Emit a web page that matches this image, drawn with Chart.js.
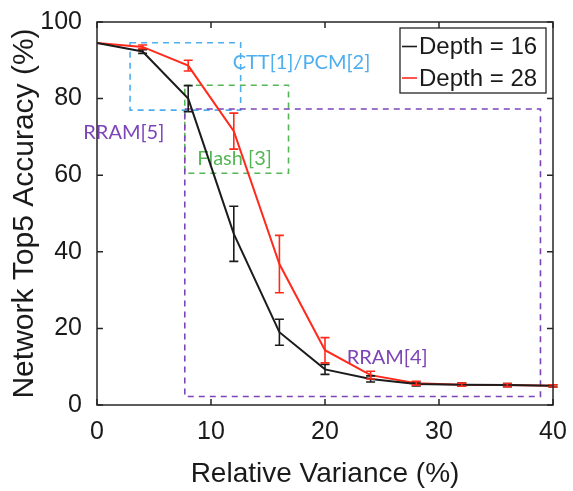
<!DOCTYPE html>
<html>
<head>
<meta charset="utf-8">
<script src="https://cdn.jsdelivr.net/npm/chart.js@4.4.1/dist/chart.umd.min.js"></script>
<style>
  html, body { margin: 0; padding: 0; background: #fff; }
  #wrap { width: 573px; height: 491px; }
</style>
</head>
<body>
<div id="wrap"><canvas id="c" width="573" height="491"></canvas></div>
<script>
// Relative variance (%) at which accuracy was evaluated
const variance = [0, 4, 8, 12, 16, 20, 24, 28, 32, 36, 40];

// Network top-5 accuracy (%) and error half-widths for each depth
const depth16 = [94.5, 92.3, 80.0, 44.7, 19.0, 9.3, 6.8, 5.5, 5.3, 5.2, 5.0];
const depth16Err = [0, 0.5, 3.4, 7.2, 3.4, 1.3, 0.8, 0.5, 0.4, 0.4, 0.3];
const depth28 = [94.5, 93.5, 88.6, 71.5, 36.8, 14.3, 7.8, 5.7, 5.3, 5.2, 5.0];
const depth28Err = [0, 0.5, 1.4, 4.7, 7.5, 3.3, 1.0, 0.5, 0.4, 0.4, 0.3];

const seriesNames = ['Depth = 16', 'Depth = 28'];
const xTicks = [0, 10, 20, 30, 40];
const yTicks = [0, 20, 40, 60, 80, 100];

// Device technology variance ranges: [xMin, xMax, yMin, yMax]
const techNames = ['CTT[1]/PCM[2]', 'Flash [3]', 'RRAM[5]', 'RRAM[4]'];
const techRanges = {
  ctt: [2.9, 12.6, 77.0, 94.6],
  flash: [7.7, 16.8, 60.5, 83.5],
  rram: [7.7, 38.9, 2.2, 77.3]
};

const COLORS = { d16: '#1c1c1c', d28: '#ff2a1c', blue: '#4daef0', green: '#55b655', purple: '#7d44b8', frame: '#262626' };

const boxes = [
  { r: techRanges.ctt, color: COLORS.blue },
  { r: techRanges.flash, color: COLORS.green },
  { r: techRanges.rram, color: COLORS.purple }
];
const boxLabels = [
  { text: techNames[0], x: 11.9, y: 89.4, color: COLORS.blue },
  { text: techNames[1], x: 8.8, y: 64.4, color: COLORS.green },
  { text: techNames[2], x: -1.2, y: 71.1, color: COLORS.purple },
  { text: techNames[3], x: 21.9, y: 12.3, color: COLORS.purple }
];

const pairs = (ys) => variance.map((v, i) => ({ x: v, y: ys[i] }));

const FONT = '"Liberation Sans", Arial, Helvetica, sans-serif';

// Dashed technology boxes and their labels, under the curves
const regionPlugin = {
  id: 'regions',
  beforeDatasetsDraw(chart) {
    const { ctx, scales: { x, y } } = chart;
    ctx.save();
    ctx.lineWidth = 1.6;
    ctx.setLineDash([6, 5]);
    boxes.forEach(b => {
      const [x0, x1, y0, y1] = b.r;
      ctx.strokeStyle = b.color;
      ctx.strokeRect(x.getPixelForValue(x0), y.getPixelForValue(y1),
        x.getPixelForValue(x1) - x.getPixelForValue(x0),
        y.getPixelForValue(y0) - y.getPixelForValue(y1));
    });
    ctx.setLineDash([]);
    ctx.font = '20px Lato, "Open Sans", sans-serif';
    ctx.textBaseline = 'middle';
    ctx.textAlign = 'left';
    boxLabels.forEach(l => {
      ctx.fillStyle = l.color;
      ctx.fillText(l.text, x.getPixelForValue(l.x), y.getPixelForValue(l.y));
    });
    ctx.restore();
  }
};

// Error bars, axes frame with inward ticks, and legend
const decorPlugin = {
  id: 'decor',
  afterDatasetsDraw(chart) {
    const { ctx, chartArea: a, scales: { x, y } } = chart;
    ctx.save();
    const cap = 4.5;
    [[depth16, depth16Err, COLORS.d16], [depth28, depth28Err, COLORS.d28]].forEach(([vals, errs, col]) => {
      ctx.strokeStyle = col;
      ctx.lineWidth = 1.6;
      vals.forEach((v, i) => {
        if (!errs[i]) return;
        const px = x.getPixelForValue(variance[i]);
        const top = y.getPixelForValue(v + errs[i]);
        const bot = y.getPixelForValue(v - errs[i]);
        ctx.beginPath();
        ctx.moveTo(px, top); ctx.lineTo(px, bot);
        ctx.moveTo(px - cap, top); ctx.lineTo(px + cap, top);
        ctx.moveTo(px - cap, bot); ctx.lineTo(px + cap, bot);
        ctx.stroke();
      });
    });

    // frame
    ctx.strokeStyle = COLORS.frame;
    ctx.lineWidth = 1.5;
    ctx.strokeRect(a.left, a.top, a.right - a.left, a.bottom - a.top);
    const tl = 6;
    ctx.beginPath();
    xTicks.forEach(t => {
      const px = x.getPixelForValue(t);
      ctx.moveTo(px, a.bottom); ctx.lineTo(px, a.bottom - tl);
      ctx.moveTo(px, a.top); ctx.lineTo(px, a.top + tl);
    });
    yTicks.forEach(t => {
      const py = y.getPixelForValue(t);
      ctx.moveTo(a.left, py); ctx.lineTo(a.left + tl, py);
      ctx.moveTo(a.right, py); ctx.lineTo(a.right - tl, py);
    });
    ctx.stroke();

    // legend
    const lx = a.right - 153, ly = a.top + 6, lw = 146, lh = 65;
    ctx.fillStyle = '#fff';
    ctx.fillRect(lx, ly, lw, lh);
    ctx.lineWidth = 1.3;
    ctx.strokeStyle = COLORS.frame;
    ctx.strokeRect(lx, ly, lw, lh);
    ctx.font = '24px ' + FONT;
    ctx.textBaseline = 'middle';
    ctx.textAlign = 'left';
    [COLORS.d16, COLORS.d28].forEach((col, i) => {
      const ry = ly + 18.5 + i * 31.5;
      ctx.strokeStyle = col;
      ctx.lineWidth = 1.6;
      ctx.beginPath();
      ctx.moveTo(lx + 2, ry); ctx.lineTo(lx + 17, ry);
      ctx.stroke();
      ctx.fillStyle = '#1a1a1a';
      ctx.fillText(seriesNames[i], lx + 19, ry + 1);
    });
    ctx.restore();
  }
};

new Chart(document.getElementById('c'), {
  type: 'line',
  data: {
    datasets: [
      { label: seriesNames[0], data: pairs(depth16), borderColor: COLORS.d16, borderWidth: 2, pointRadius: 0, tension: 0 },
      { label: seriesNames[1], data: pairs(depth28), borderColor: COLORS.d28, borderWidth: 2, pointRadius: 0, tension: 0 }
    ]
  },
  options: {
    responsive: false,
    animation: false,
    events: [],
    layout: { padding: { top: 17, right: 20, left: 0, bottom: 0 } },
    plugins: { legend: { display: false }, tooltip: { enabled: false } },
    scales: {
      x: {
        type: 'linear', min: 0, max: 40,
        afterBuildTicks: s => { s.ticks = xTicks.map(v => ({ value: v })); },
        afterFit: s => { s.height = 86; },
        grid: { display: false },
        border: { display: false },
        ticks: { color: '#1a1a1a', font: { family: FONT, size: 25 }, padding: 4, maxRotation: 0 },
        title: { display: true, text: 'Relative Variance (%)', color: '#1a1a1a', font: { family: FONT, size: 28 }, padding: { top: 0, bottom: 0 } }
      },
      y: {
        min: 0, max: 100,
        afterBuildTicks: s => { s.ticks = yTicks.map(v => ({ value: v })); },
        afterFit: s => { s.width = 97; },
        grid: { display: false },
        border: { display: false },
        ticks: { color: '#1a1a1a', font: { family: FONT, size: 25 }, padding: 7 },
        title: { display: true, text: 'Network Top5 Accuracy (%)', color: '#1a1a1a', font: { family: FONT, size: 30 }, padding: { top: 7, bottom: 0 } }
      }
    }
  },
  plugins: [regionPlugin, decorPlugin]
});
</script>
</body>
</html>
